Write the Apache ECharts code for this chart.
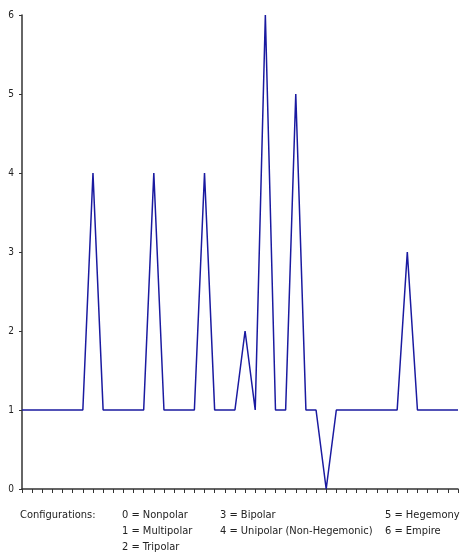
<!DOCTYPE html>
<html>
<head>
<meta charset="utf-8">
<script src="https://cdn.jsdelivr.net/npm/echarts@6/dist/echarts.min.js"></script>
<style>body{margin:0}#c{width:474px;height:557px}</style>
</head>
<body>
<div id="c"></div>
<script>
var categories = [];
for (var i = 0; i < 44; i++) categories.push(String(i));
var values = [1,1,1,1,1,1,1,4,1,1,1,1,1,4,1,1,1,1,4,1,1,1,2,1,6,1,1,5,1,1,0,1,1,1,1,1,1,1,3,1,1,1,1,1];
var yTicks = [0, 1, 2, 3, 4, 5, 6];

var font = '"DejaVu Sans Condensed", "DejaVu Sans", sans-serif';
function txt(x, y, s) {
  return { type: 'text', left: x, top: y, style: { text: s, font: '11px ' + font, fill: '#222' } };
}
var chart = echarts.init(document.getElementById('c'));
chart.setOption({
  animation: false,
  grid: { left: 22, right: 16, top: 15, bottom: 68 },
  xAxis: {
    type: 'category', data: categories, boundaryGap: false,
    axisLine: { lineStyle: { color: '#333', width: 1.5 } },
    axisTick: { show: true, interval: 0, length: 4, inside: false, lineStyle: { color: '#333' } },
    axisLabel: { show: false },
    splitLine: { show: false }
  },
  yAxis: {
    type: 'value', min: 0, max: 6, interval: 1,
    axisLine: { show: true, lineStyle: { color: '#333', width: 1.5 } },
    axisTick: { show: true, length: 3, lineStyle: { color: '#333' } },
    axisLabel: { color: '#222', fontSize: 10, fontFamily: font, margin: 8,
      formatter: function (v) { return yTicks.indexOf(v) >= 0 ? String(v) : ''; } },
    splitLine: { show: false }
  },
  series: [{
    type: 'line', data: values, symbol: 'none',
    lineStyle: { color: '#1a1aa0', width: 1.5 }
  }],
  graphic: [
    txt(20, 510, 'Configurations:'),
    txt(122, 510, '0 = Nonpolar'),
    txt(122, 526, '1 = Multipolar'),
    txt(122, 542, '2 = Tripolar'),
    txt(220, 510, '3 = Bipolar'),
    txt(220, 526, '4 = Unipolar (Non-Hegemonic)'),
    txt(385, 510, '5 = Hegemony'),
    txt(385, 526, '6 = Empire')
  ]
});
</script>
</body>
</html>
